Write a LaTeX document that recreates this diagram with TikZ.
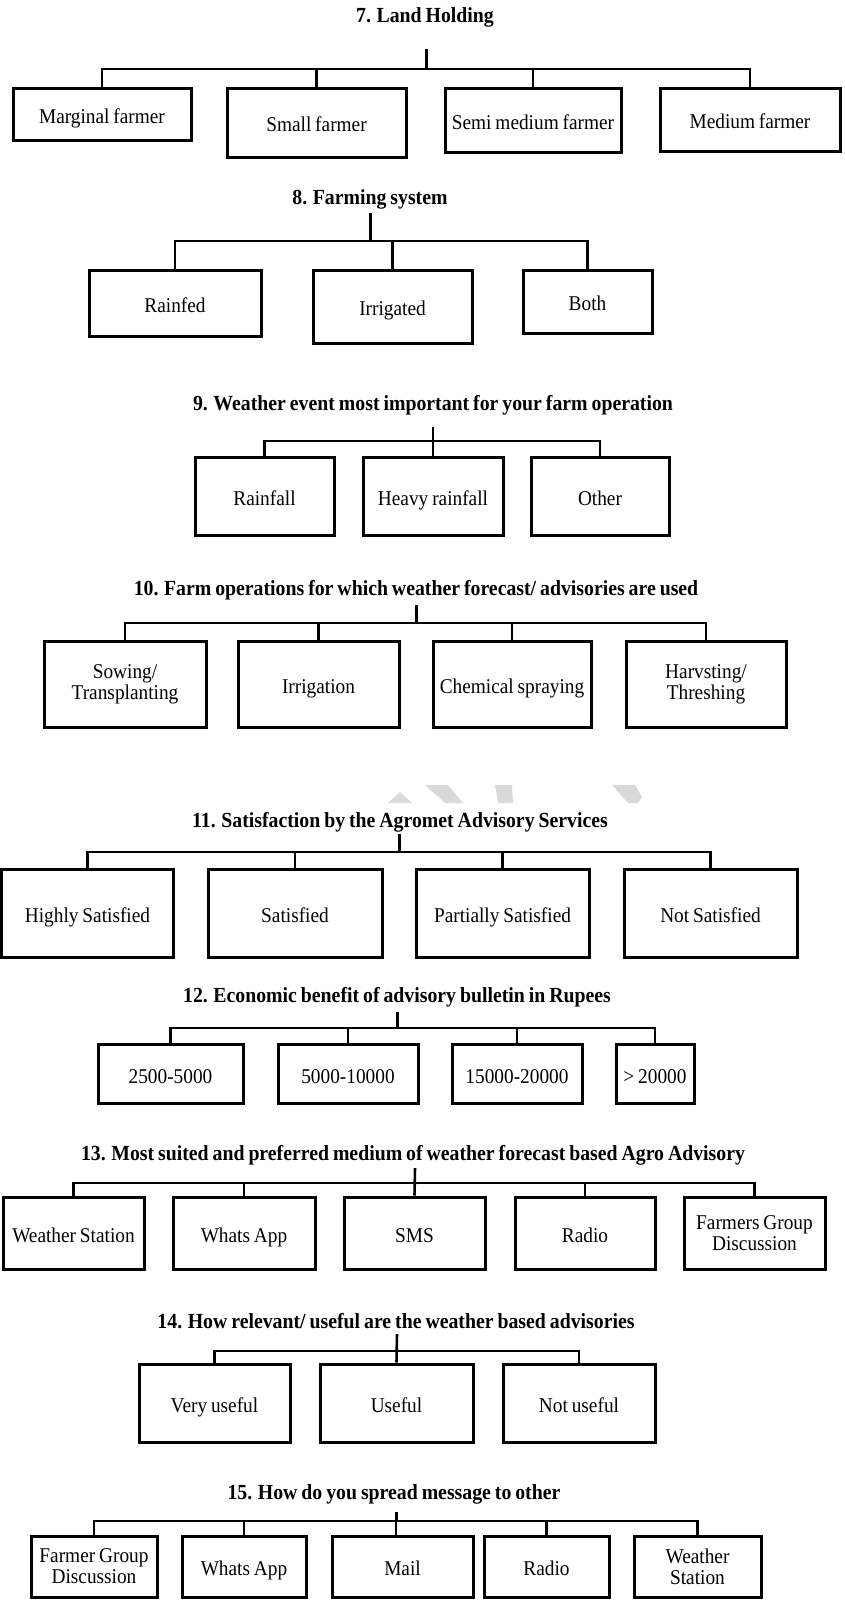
\documentclass[tikz,border=0pt]{standalone}
\usepackage{fontspec}
\setmainfont{Liberation Serif}[FakeStretch=0.92,WordSpace=0.8]
\begin{document}
\begin{tikzpicture}[x=1pt,y=-1pt,
  box/.style={draw=black,line width=3pt,fill=white,inner sep=1pt,align=center,font=\fontsize{21}{21}\selectfont},
  one/.style={text height=20pt,text depth=2pt},
  ttl/.style={inner sep=0pt,font=\fontsize{21.5}{23}\selectfont\bfseries},
  conn/.style={draw=black,line width=2.6pt},
  stem/.style={draw=black,line width=3pt}]
\useasboundingbox (0,0) rectangle (844,1606);
% watermark
\fill[gray!30] (388,803)--(400,792)--(412,803)--cycle;
\fill[gray!30] (425,785)--(448,785)--(463,803)--(445,803)--cycle;
\fill[gray!30] (495,785)--(512,785)--(513,803)--(498,803)--cycle;
\fill[gray!30] (612,785)--(635,785)--(642,797)--(638,803)--(628,803)--cycle;

% ---------- 7
\node[ttl] (t7) at (425,17) {7. Land Holding};
\coordinate (s7) at (426,49); \coordinate (j7) at (426,69);
\node[box,one,minimum width=178pt,minimum height=52pt] (b71) at (102,114) {Marginal farmer};
\node[box,one,minimum width=179pt,minimum height=69pt] (b72) at (316.5,122.5) {Small farmer};
\node[box,one,minimum width=176pt,minimum height=64pt] (b73) at (533,120) {Semi medium farmer};
\node[box,one,minimum width=180pt,minimum height=63pt] (b74) at (750,119.5) {Medium farmer};
\draw[stem] (s7) -- (j7);
\draw[conn] (b71.north) |- (j7) -| (b74.north);
\draw[conn] (b72.north) -- (b72.north |- j7);
\draw[conn] (b73.north) -- (b73.north |- j7);

% ---------- 8
\node[ttl] (t8) at (370,199) {8. Farming system};
\coordinate (s8) at (370,213); \coordinate (j8) at (370,241);
\node[box,one,minimum width=172pt,minimum height=66pt] (b81) at (175,303) {Rainfed};
\node[box,one,minimum width=159pt,minimum height=73pt] (b82) at (392.5,306.5) {Irrigated};
\node[box,one,minimum width=129pt,minimum height=63pt] (b83) at (587.5,301.5) {Both};
\draw[stem] (s8) -- (j8);
\draw[conn] (b81.north) |- (j8) -| (b83.north);
\draw[conn] (b82.north) -- (b82.north |- j8);

% ---------- 9
\node[ttl] (t9) at (433,405) {9. Weather event most important for your farm operation};
\coordinate (s9) at (433,427); \coordinate (j9) at (433,441);
\node[box,one,minimum width=139pt,minimum height=78pt] (b91) at (264.5,496) {Rainfall};
\node[box,one,minimum width=140pt,minimum height=78pt] (b92) at (433,496) {Heavy rainfall};
\node[box,one,minimum width=138pt,minimum height=78pt] (b93) at (600,496) {Other};
\draw[conn] (s9) -- (b92.north);
\draw[conn] (b91.north) |- (j9) -| (b93.north);

% ---------- 10
\node[ttl] (t10) at (416,590) {10. Farm operations for which weather forecast/ advisories are used};
\coordinate (s10) at (416,605); \coordinate (j10) at (416,623);
\node[box,minimum width=162pt,minimum height=86pt] (b101) at (125,684) {Sowing/\\Transplanting};
\node[box,one,minimum width=161pt,minimum height=86pt] (b102) at (318.5,684) {Irrigation};
\node[box,one,minimum width=158pt,minimum height=86pt] (b103) at (512,684) {Chemical spraying};
\node[box,minimum width=160pt,minimum height=86pt] (b104) at (706,684) {Harvsting/\\Threshing};
\draw[stem] (s10) -- (j10);
\draw[conn] (b101.north) |- (j10) -| (b104.north);
\draw[conn] (b102.north) -- (b102.north |- j10);
\draw[conn] (b103.north) -- (b103.north |- j10);

% ---------- 11
\node[ttl] (t11) at (400,822) {11. Satisfaction by the Agromet Advisory Services};
\coordinate (s11) at (399,834); \coordinate (j11) at (399,852);
\node[box,one,minimum width=172pt,minimum height=88pt] (b111) at (87.5,913) {Highly Satisfied};
\node[box,one,minimum width=174pt,minimum height=88pt] (b112) at (295,913) {Satisfied};
\node[box,one,minimum width=173pt,minimum height=88pt] (b113) at (502.5,913) {Partially Satisfied};
\node[box,one,minimum width=173pt,minimum height=88pt] (b114) at (710.5,913) {Not Satisfied};
\draw[stem] (s11) -- (j11);
\draw[conn] (b111.north) |- (j11) -| (b114.north);
\draw[conn] (b112.north) -- (b112.north |- j11);
\draw[conn] (b113.north) -- (b113.north |- j11);

% ---------- 12
\node[ttl] (t12) at (397,997) {12. Economic benefit of advisory bulletin in Rupees};
\coordinate (s12) at (397,1012); \coordinate (j12) at (397,1028);
\node[box,one,minimum width=145pt,minimum height=59pt] (b121) at (170.5,1074) {2500-5000};
\node[box,one,minimum width=140pt,minimum height=59pt] (b122) at (348,1074) {5000-10000};
\node[box,one,minimum width=130pt,minimum height=59pt] (b123) at (517,1074) {15000-20000};
\node[box,one,minimum width=78pt,minimum height=59pt] (b124) at (655,1074) {> 20000};
\draw[stem] (s12) -- (j12);
\draw[conn] (b121.north) |- (j12) -| (b124.north);
\draw[conn] (b122.north) -- (b122.north |- j12);
\draw[conn] (b123.north) -- (b123.north |- j12);

% ---------- 13
\node[ttl] (t13) at (413,1155) {13. Most suited and preferred medium of weather forecast based Agro Advisory};
\coordinate (s13) at (415,1168); \coordinate (j13) at (415,1183);
\node[box,one,minimum width=141pt,minimum height=72pt] (b131) at (73.5,1233) {Weather Station};
\node[box,one,minimum width=142pt,minimum height=72pt] (b132) at (244,1233) {Whats App};
\node[box,one,minimum width=141pt,minimum height=72pt] (b133) at (414.5,1233) {SMS};
\node[box,one,minimum width=140pt,minimum height=72pt] (b134) at (585,1233) {Radio};
\node[box,minimum width=141pt,minimum height=72pt] (b135) at (754.5,1233) {Farmers Group\\Discussion};
\draw[conn] (s13) -- (b133.north);
\draw[conn] (b131.north) |- (j13) -| (b135.north);
\draw[conn] (b132.north) -- (b132.north |- j13);
\draw[conn] (b134.north) -- (b134.north |- j13);

% ---------- 14
\node[ttl] (t14) at (396,1321) {14. How relevant/ useful are the weather based advisories};
\coordinate (s14) at (397,1334); \coordinate (j14) at (397,1351);
\node[box,one,minimum width=151pt,minimum height=78pt] (b141) at (214.5,1403) {Very useful};
\node[box,one,minimum width=153pt,minimum height=78pt] (b142) at (396.5,1403) {Useful};
\node[box,one,minimum width=152pt,minimum height=78pt] (b143) at (579,1403) {Not useful};
\draw[conn] (s14) -- (b142.north);
\draw[conn] (b141.north) |- (j14) -| (b143.north);

% ---------- 15
\node[ttl] (t15) at (394,1494) {15. How do you spread message to other};
\coordinate (s15) at (396,1512); \coordinate (j15) at (396,1521);
\node[box,minimum width=126pt,minimum height=61pt] (b151) at (94,1566.5) {Farmer Group\\Discussion};
\node[box,one,minimum width=124pt,minimum height=61pt] (b152) at (244,1566.5) {Whats App};
\node[box,one,minimum width=141pt,minimum height=61pt] (b153) at (402.5,1566.5) {Mail};
\node[box,one,minimum width=125pt,minimum height=61pt] (b154) at (546.5,1566.5) {Radio};
\node[box,minimum width=127pt,minimum height=61pt] (b155) at (697.5,1566.5) {Weather\\Station};
\draw[stem] (s15) -- (j15);
\draw[conn] (b151.north) |- (j15) -| (b155.north);
\draw[conn] (b152.north) -- (b152.north |- j15);
\draw[conn] (j15) -- (j15 |- b153.north);
\draw[conn] (b154.north) -- (b154.north |- j15);
\end{tikzpicture}
\end{document}
